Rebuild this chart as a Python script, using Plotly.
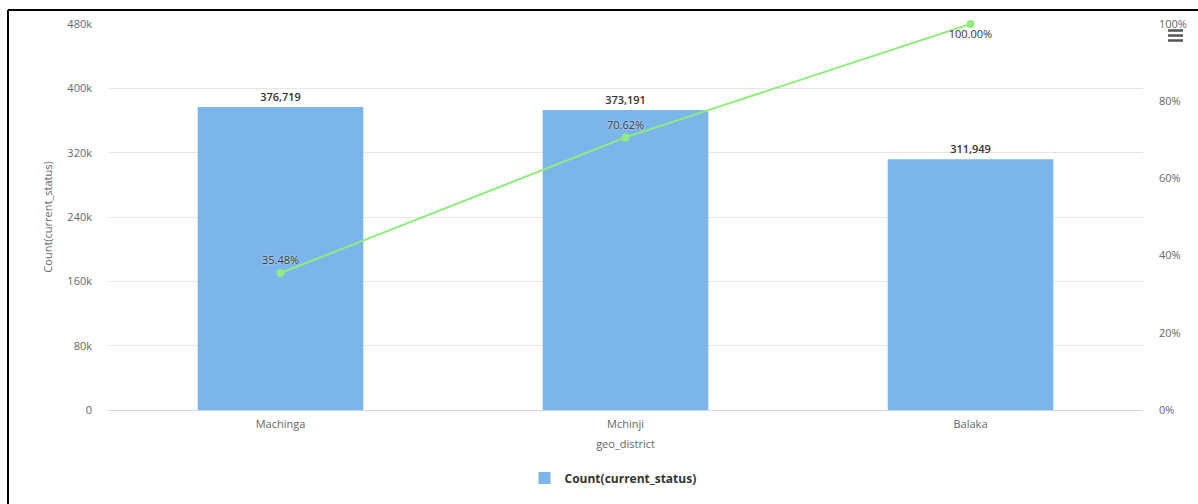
import plotly.graph_objects as go

districts = ["Machinga", "Mchinji", "Balaka"]
counts = [376719, 373191, 311949]
cum_pct = [35.48, 70.62, 100.00]
left_ticks = [0, 80000, 160000, 240000, 320000, 400000, 480000]
left_tick_labels = ["0", "80k", "160k", "240k", "320k", "400k", "480k"]
right_ticks = [0, 20, 40, 60, 80, 100]
right_tick_labels = ["0%", "20%", "40%", "60%", "80%", "100%"]

W, H = 1198, 504
L, R, T, B = 108, 55, 24, 94
pw, ph = W - L - R, H - T - B

def px_x(x):
    return (x - L) / pw

def px_y(y):
    return (H - B - y) / ph

FONT = "Open Sans, DejaVu Sans, sans-serif"

fig = go.Figure()
fig.add_trace(go.Bar(
    x=districts, y=counts, name="Count(current_status)",
    marker=dict(color="#7cb5ec", line=dict(width=0)),
    text=[f"{v:,}" for v in counts], textposition="outside",
    textfont=dict(size=11, color="#333333", family=FONT, weight=600),
    cliponaxis=False, hoverinfo="x+y",
))
fig.add_trace(go.Scatter(
    x=districts, y=cum_pct, yaxis="y2", mode="lines+markers+text",
    line=dict(color="#90ed7d", width=2), marker=dict(color="#90ed7d", size=8),
    text=[f"{v:.2f}%" for v in cum_pct],
    textposition=["top center", "top center", "bottom center"],
    textfont=dict(size=11, color="#333333", family=FONT, shadow="0px 0px 2px white"),
    showlegend=False, cliponaxis=False,
))

fig.update_layout(
    width=W, height=H, margin=dict(l=L, r=R, t=T, b=B),
    paper_bgcolor="white", plot_bgcolor="white",
    font=dict(family=FONT, size=11, color="#666666"),
    bargap=0.52,
    xaxis=dict(title=dict(text="geo_district", standoff=10, font=dict(size=11, color="#666666")),
               showgrid=False, showline=True, linecolor="#ccd6eb", linewidth=1,
               ticks="", ticklabelstandoff=4, tickfont=dict(size=11, color="#666666")),
    yaxis=dict(title=dict(text="Count(current_status)", standoff=12, font=dict(size=11, color="#666666")),
               range=[0, 480000], tickvals=left_ticks, ticktext=left_tick_labels,
               showgrid=True, gridcolor="#e6e6e6", gridwidth=1, zeroline=False,
               ticks="", ticklabelstandoff=15, tickfont=dict(size=11, color="#666666")),
    yaxis2=dict(overlaying="y", side="right", range=[0, 100],
                tickvals=right_ticks, ticktext=right_tick_labels,
                showgrid=False, zeroline=False, ticks="", ticklabelstandoff=15,
                tickfont=dict(size=11, color="#666666")),
    legend=dict(orientation="h", x=px_x(613), xanchor="center", y=px_y(478), yanchor="middle",
                font=dict(size=12, color="#333333", family=FONT, weight="bold")),
    showlegend=True,
    shapes=[
        dict(type="line", xref="paper", yref="paper", x0=px_x(8), x1=px_x(1198), y0=px_y(10), y1=px_y(10),
             line=dict(color="black", width=2)),
        dict(type="line", xref="paper", yref="paper", x0=px_x(8), x1=px_x(8), y0=px_y(10), y1=px_y(504),
             line=dict(color="black", width=2)),
        dict(type="line", xref="paper", yref="paper", x0=px_x(1168), x1=px_x(1183), y0=px_y(30.5), y1=px_y(30.5),
             line=dict(color="#555555", width=2.5)),
        dict(type="line", xref="paper", yref="paper", x0=px_x(1168), x1=px_x(1183), y0=px_y(35.5), y1=px_y(35.5),
             line=dict(color="#555555", width=2.5)),
        dict(type="line", xref="paper", yref="paper", x0=px_x(1168), x1=px_x(1183), y0=px_y(40.5), y1=px_y(40.5),
             line=dict(color="#555555", width=2.5)),
    ],
)

fig.write_html("out.html", config={"displayModeBar": False})
